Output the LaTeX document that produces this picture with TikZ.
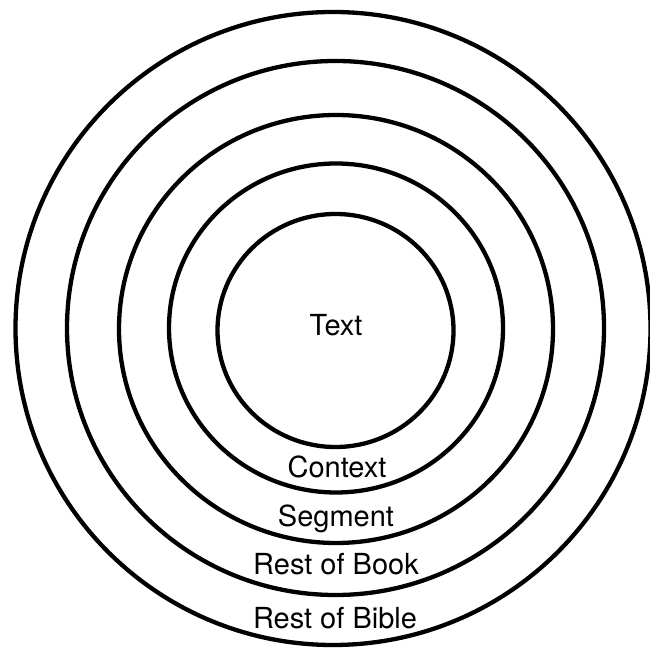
\documentclass[tikz,border=0pt]{standalone}
\usepackage{fontspec}
\setmainfont{TeX Gyre Heros}
\begin{document}
\begin{tikzpicture}[x=1pt,y=1pt,
  ring/.style={draw=black,line width=4.3pt},
  lbl/.style={anchor=base,inner sep=0pt,font=\fontsize{29}{33}\selectfont}]
\useasboundingbox (0,0) rectangle (649,652);
\draw[ring] (335.5,321.5) ellipse [x radius=118, y radius=116.5];
\draw[ring] (336,324) ellipse [x radius=167, y radius=164.5];
\draw[ring] (336,323) ellipse [x radius=217, y radius=214];
\draw[ring] (335.5,324) ellipse [x radius=268.5, y radius=267];
\draw[ring] (333,323.5) ellipse [x radius=317.5, y radius=316.5];
\node[lbl] (text) at (336,316) {Text};
\node[lbl] (context) at (337,174) {Context};
\node[lbl] (segment) at (336,125) {Segment};
\node[lbl] (book) at (336,77) {Rest of Book};
\node[lbl] (bible) at (335,23) {Rest of Bible};
\end{tikzpicture}
\end{document}
